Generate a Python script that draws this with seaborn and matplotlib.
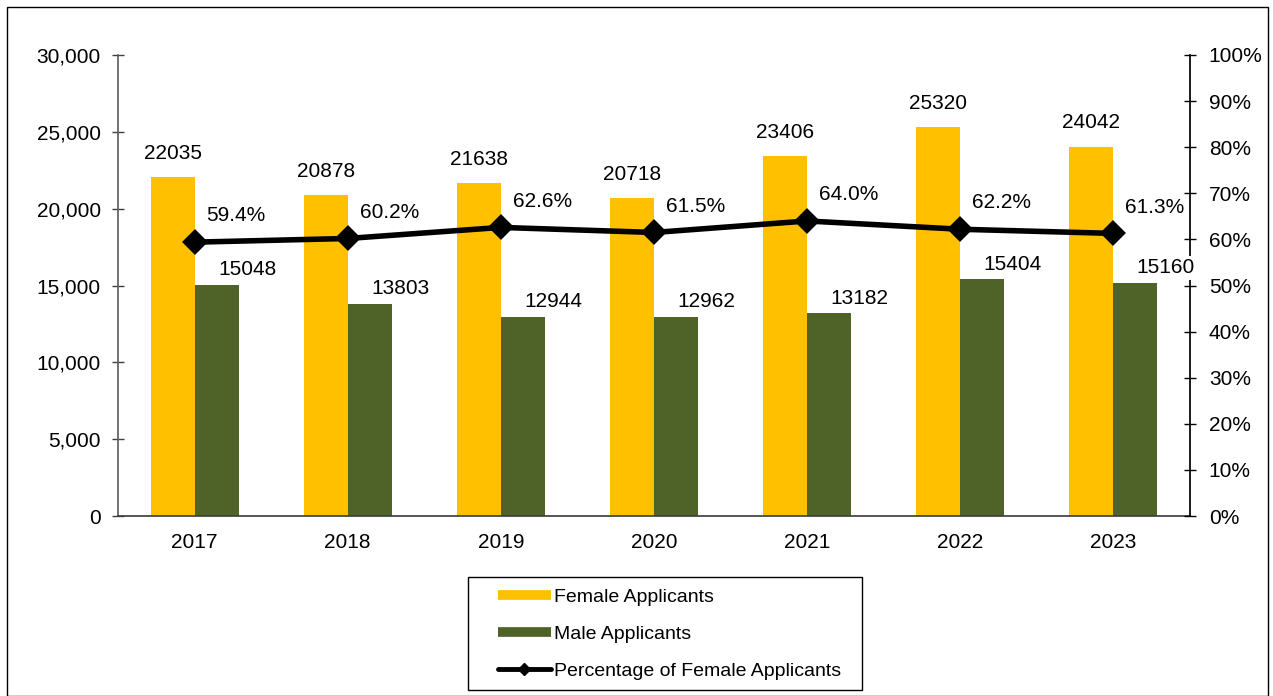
import numpy as np
import pandas as pd
import matplotlib
matplotlib.use('Agg')
import matplotlib.pyplot as plt
import seaborn as sns
from matplotlib.lines import Line2D
from matplotlib.patches import Rectangle

years = ["2017", "2018", "2019", "2020", "2021", "2022", "2023"]
female = [22035, 20878, 21638, 20718, 23406, 25320, 24042]
male = [15048, 13803, 12944, 12962, 13182, 15404, 15160]
pct_female = [59.4, 60.2, 62.6, 61.5, 64.0, 62.2, 61.3]

FEMALE_C = "#FFC000"
MALE_C = "#4F6228"
FS = 15

sns.set_theme(style="white")
plt.rcParams['font.family'] = ['Liberation Sans', 'DejaVu Sans']

df = pd.DataFrame({
    "year": years * 2,
    "count": female + male,
    "gender": ["Female Applicants"] * len(years) + ["Male Applicants"] * len(years),
})

W, H = 1273, 696
fig = plt.figure(figsize=(W / 100, H / 100), dpi=100)
ax = fig.add_axes([118 / W, 1 - 516 / H, (1190 - 118) / W, (516 - 55) / H])

sns.barplot(data=df, x="year", y="count", hue="gender",
            palette=[FEMALE_C, MALE_C], width=0.575, saturation=1,
            gap=0, legend=False, linewidth=0, ax=ax)

ax2 = ax.twinx()
sns.pointplot(x=years, y=pct_female, color="black", markers="D",
              markersize=10, linewidth=4, ax=ax2)

ax.set_xlim(-0.5, len(years) - 0.5)
ax.set_ylim(0, 30000)
ax2.set_ylim(0, 100)
ax.set_yticks(np.arange(0, 30001, 5000))
ax.set_yticklabels([f"{v:,}" for v in range(0, 30001, 5000)])
ax2.set_yticks(np.arange(0, 101, 10))
ax2.set_yticklabels([f"{v}%" for v in range(0, 101, 10)])
ax.set_xticks(range(len(years)))
ax.set_xticklabels(years)
ax.set_xticks(np.arange(-0.5, len(years) + 0.5, 1), minor=True)
ax.set_xlabel("")
ax.set_ylabel("")
ax2.set_ylabel("")

ax.tick_params(axis="x", which="major", length=0, labelsize=FS, pad=12, colors="black")
ax.tick_params(axis="x", which="minor", direction="inout", length=9, width=1, color="#404040")
ax.tick_params(axis="y", direction="inout", length=9, width=1, color="#404040",
               labelsize=FS, pad=8, labelcolor="black", left=True)
ax2.tick_params(axis="y", direction="inout", length=9, width=1, color="black",
                labelsize=FS, pad=9, labelcolor="black", right=True)

for a in (ax, ax2):
    a.spines["top"].set_visible(False)
    a.grid(False)
ax.spines["right"].set_visible(False)
ax.spines["left"].set_color("#606060")
ax.spines["bottom"].set_color("#404040")
ax2.spines["left"].set_visible(False)
ax2.spines["bottom"].set_visible(False)
ax2.spines["right"].set_color("black")

# data labels, white boxes drawn over bars/line like the original
box = dict(facecolor="white", edgecolor="none", pad=2)
off = 0.575 / 4
for i, (f, m, p) in enumerate(zip(female, male, pct_female)):
    ax2.annotate(f"{f}", (i - off, f), xycoords=ax.transData, xytext=(0, 17),
                 textcoords="offset points", ha="center", va="center",
                 fontsize=FS, color="black", bbox=box, zorder=10)
    ax2.annotate(f"{m}", (i + off, m), xycoords=ax.transData, xytext=(22, 11),
                 textcoords="offset points", ha="center", va="center",
                 fontsize=FS, color="black", bbox=box, zorder=10)
    ax2.annotate(f"{p:.1f}%", (i, p), xytext=(30, 19), textcoords="offset points",
                 ha="center", va="center", fontsize=FS, color="black",
                 bbox=box, zorder=10)

# legend (frame drawn separately)
handles = [
    Line2D([], [], color=FEMALE_C, lw=7, solid_capstyle="butt"),
    Line2D([], [], color=MALE_C, lw=7, solid_capstyle="butt"),
    Line2D([], [], color="black", lw=3.5, marker="D", markersize=6),
]
labels = ["Female Applicants", "Male Applicants", "Percentage of Female Applicants"]
leg = fig.legend(handles, labels, loc="upper left",
                 bbox_to_anchor=(498 / W, 1 - 588 / H),
                 fontsize=14, frameon=False, handlelength=2.7,
                 handletextpad=0.2, labelspacing=1.0,
                 borderpad=0, borderaxespad=0)
for t in leg.get_texts():
    t.set_color("black")
fig.add_artist(Rectangle((468 / W, 1 - 690 / H), (862 - 468) / W, (690 - 577) / H,
                         transform=fig.transFigure, fill=False,
                         edgecolor="black", linewidth=1))

# outer chart border
fig.add_artist(Rectangle((7 / W, 0.0), 1261 / W, 689 / H,
                         transform=fig.transFigure, fill=False,
                         edgecolor="black", linewidth=1))

fig.savefig("out.png", dpi=100)
